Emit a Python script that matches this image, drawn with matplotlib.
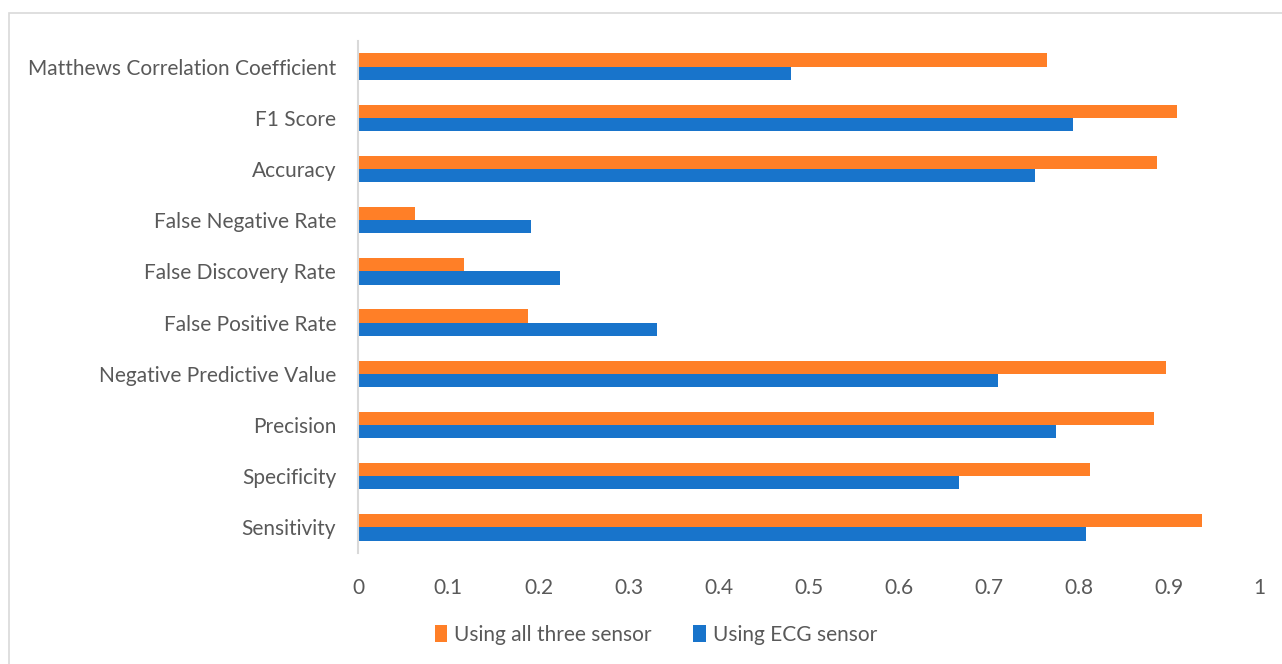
import matplotlib
matplotlib.use("Agg")
import matplotlib.pyplot as plt
from matplotlib.patches import Rectangle, Patch
import numpy as np

# Metrics, listed from the bottom row to the top row
metrics = [
    "Sensitivity",
    "Specificity",
    "Precision",
    "Negative Predictive Value",
    "False Positive Rate",
    "False Discovery Rate",
    "False Negative Rate",
    "Accuracy",
    "F1 Score",
    "Matthews Correlation Coefficient",
]
all_three = [0.937, 0.812, 0.883, 0.897, 0.188, 0.117, 0.063, 0.887, 0.909, 0.765]
ecg_only = [0.808, 0.667, 0.775, 0.710, 0.332, 0.224, 0.192, 0.751, 0.793, 0.480]
series_names = ["Using all three sensor", "Using ECG sensor"]
x_ticks = [0, 0.1, 0.2, 0.3, 0.4, 0.5, 0.6, 0.7, 0.8, 0.9, 1]
x_tick_labels = ["0", "0.1", "0.2", "0.3", "0.4", "0.5", "0.6", "0.7", "0.8", "0.9", "1"]

ORANGE = "#FF7F27"
BLUE = "#1874CB"
TEXT = "#595959"
LINE = "#D9D9D9"

plt.rcParams["font.family"] = ["Lato", "DejaVu Sans"]

W, H = 1282, 664
fig = plt.figure(figsize=(W / 100, H / 100), dpi=100)
fig.patch.set_facecolor("white")

# light chart-area frame (runs off the right and bottom edges)
fig.patches.append(Rectangle((9 / W, -0.1), 1.0, 1.1 - 13 / H, transform=fig.transFigure,
                             fill=False, edgecolor=LINE, linewidth=1.2))

ax = fig.add_axes([358.3 / W, 1 - 553 / H, (1259 - 358.3) / W, (553 - 41) / H])

y = np.arange(len(metrics))
h = 0.256
ax.barh(y + h / 2, all_three, height=h, color=ORANGE, label=series_names[0])
ax.barh(y - h / 2, ecg_only, height=h, color=BLUE, label=series_names[1])

ax.set_xlim(0, 1)
ax.set_ylim(-0.5, len(metrics) - 0.5)
ax.set_yticks(y)
ax.set_yticklabels(metrics)
ax.set_xticks(x_ticks)
ax.set_xticklabels(x_tick_labels)
ax.tick_params(axis="y", length=0, pad=16, labelsize=15, labelcolor=TEXT)
ax.tick_params(axis="x", length=0, pad=18, labelsize=15, labelcolor=TEXT)

for s in ("top", "right", "bottom"):
    ax.spines[s].set_visible(False)
ax.spines["left"].set_color(LINE)
ax.spines["left"].set_linewidth(1.5)

handles = [Patch(facecolor=ORANGE), Patch(facecolor=BLUE)]
fig.legend(handles, series_names, loc="center", bbox_to_anchor=(656 / W, 1 - 635 / H),
           ncol=2, frameon=False, fontsize=15, labelcolor=TEXT,
           handlelength=0.6, handleheight=0.9, handletextpad=0.35, columnspacing=2.0)

fig.savefig("out.png", dpi=100, facecolor="white")
